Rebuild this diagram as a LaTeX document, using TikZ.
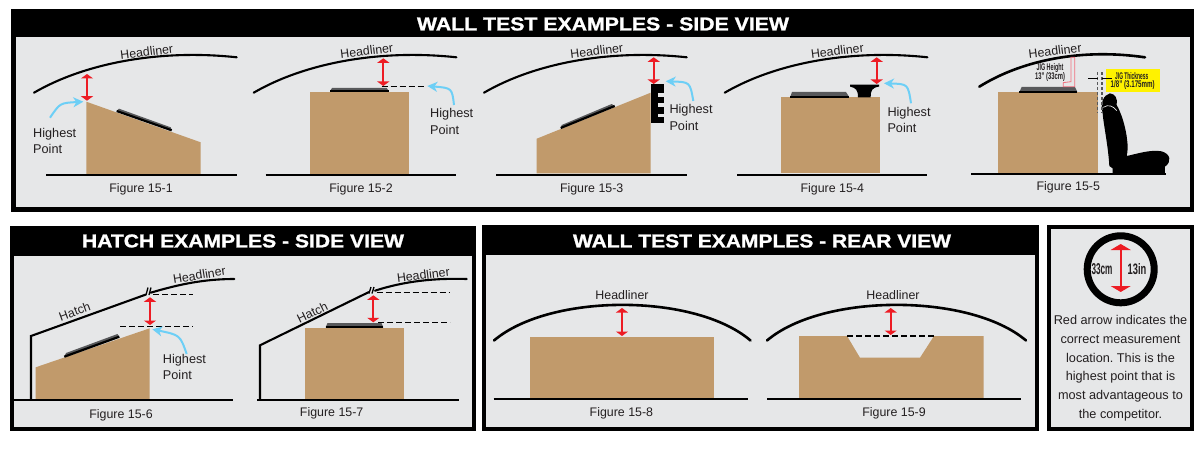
\documentclass[tikz,border=0pt]{standalone}
\usepackage{graphicx}
\usepackage{fontspec}
\setmainfont{Liberation Sans}
\newfontfamily\titlefont[BoldFeatures={FakeBold=1.1}]{Liberation Sans}
\usetikzlibrary{arrows.meta}
\definecolor{panelgray}{HTML}{E6E7E8}
\definecolor{tan}{HTML}{C19A6B}
\definecolor{hiblue}{HTML}{6DCFF6}
\definecolor{arrred}{HTML}{ED1C24}
\definecolor{jiggray}{HTML}{58595B}
\definecolor{jigyellow}{HTML}{FFF200}
\definecolor{pinkline}{HTML}{F1707F}
\definecolor{inkblack}{HTML}{231F20}
\tikzset{
  x=1pt,y=-1pt,
  outerbox/.style={fill=black},
  innerbox/.style={fill=panelgray},
  block/.style={fill=tan},
  roof/.style={draw=black,line width=2.1pt,line cap=round},
  heavyroof/.style={draw=black,line width=2.6pt,line cap=round},
  ground/.style={draw=black,line width=2pt},
  jigbase/.style={draw=black,line width=2.2pt},
  jigtop/.style={fill=jiggray},
  redarrow/.style={draw=arrred,line width=1.7pt,{Triangle[width=12pt,length=4.5pt]}-{Triangle[width=12pt,length=4.5pt]}},
  bigredarrow/.style={draw=arrred,line width=2.2pt,{Triangle[width=20pt,length=6pt]}-{Triangle[width=20pt,length=6pt]}},
  bluearrow/.style={draw=hiblue,line width=2pt,-{Stealth[length=10pt,width=10pt,inset=3pt]}},
  dashline/.style={draw=black,line width=1.5pt,dash pattern=on 6pt off 3pt},
  seatdash/.style={draw=jiggray,line width=1.2pt,dash pattern=on 3pt off 2pt},
  lab/.style={inner sep=0pt,text=inkblack,font=\fontsize{12.4}{14}\selectfont},
  hi/.style={inner sep=0pt,anchor=west,text=inkblack,font=\fontsize{12.7}{15}\selectfont},
  legend/.style={inner sep=0pt,text=inkblack,font=\fontsize{12.7}{14}\selectfont},
  cond/.style={inner sep=0pt,text=inkblack},
}
\newcommand{\panel}[8]{%
  \fill[outerbox] (#1,#2) rectangle (#3,#4);
  \fill[innerbox] (#5,#6) rectangle (#7,#8);}
\newcommand{\ttl}[5]{\node[inner sep=0pt,text=white] (#1) at (#2,#3) {\resizebox{#4pt}{13pt}{\titlefont\bfseries #5}};}
\newcommand{\narrow}[3]{\resizebox{#1pt}{#2pt}{\bfseries #3}}
\newcommand{\redarr}[4]{%
  \coordinate (#1a) at (#2,#3); \coordinate (#1b) at (#2,#4);
  \draw[redarrow] (#1a) -- (#1b);}
\newcommand{\bluearr}[7]{%
  \coordinate (#1a) at (#2,#3); \coordinate (#1b) at (#6,#7);
  \draw[bluearrow] (#1a) .. controls (#4,#5) .. (#1b);}
\newcommand{\hipoint}[4]{%
  \node[hi] (#1h) at (#2,#3) {Highest};
  \node[hi] (#1p) at (#2,#4) {Point};}
\newcommand{\hdl}[4]{\node[lab,rotate=#4] (#1) at (#2,#3) {Headliner};}
\newcommand{\fig}[4]{\node[lab] (#1) at (#2,#3) {Figure #4};}
\newcommand{\roofcurve}[1]{\draw[roof,shift={(#1,0)}] (34,92.7) .. controls (85,63) and (160,49) .. (236.7,57.3);}
\begin{document}
\frenchspacing
\begin{tikzpicture}
\useasboundingbox (0,0) rectangle (1200,452);
\fill[white] (0,0) rectangle (1200,452);
% panels
\panel{11}{9}{1194}{212}{15.5}{37}{1189.5}{207}
\panel{10}{226}{476}{431}{13.5}{256}{472}{427}
\panel{482}{225}{1039}{431}{485.7}{255}{1035}{427}
\panel{1047}{225}{1194}{431}{1051}{229}{1190}{427}
\ttl{t1}{603}{24}{372}{WALL TEST EXAMPLES - SIDE VIEW}
\ttl{t2}{243}{241}{322}{HATCH EXAMPLES - SIDE VIEW}
\ttl{t3}{762}{241}{378}{WALL TEST EXAMPLES - REAR VIEW}

% Figure 15-1
\fill[block] (86.3,101.7) -- (200.7,142.3) -- (200.7,174) -- (86.3,174) -- cycle;
\draw[ground] (46,174.5) -- (236.7,174.5);
\roofcurve{0}
\fill[jigtop] (119,108.7) -- (170.7,127.3) -- (171.7,130.3) -- (116.7,111) -- cycle;
\draw[jigbase] (116.7,111) -- (171.7,130.3);
\redarr{r1}{87}{74}{100.7}
\bluearr{b1}{50}{117.7}{60}{103}{83.3}{101.7}
\hipoint{h1}{33}{134}{149}
\hdl{n1}{146.7}{51.7}{7}
\fig{f1}{141}{189.3}{15-1}

% Figure 15-2
\fill[block] (310,92.3) rectangle (409,174);
\draw[ground] (265.7,174.5) -- (455.7,174.5);
\roofcurve{219.7}
\fill[jigtop] (332,88) -- (386.7,88) -- (388.7,91) -- (330,91) -- cycle;
\draw[jigbase] (330,91) -- (388.7,91);
\coordinate (d2a) at (381.7,86.3); \coordinate (d2b) at (424,86.3);
\draw[dashline] (d2a) -- (d2b);
\redarr{r2}{383.3}{58.3}{86}
\bluearr{b2}{454}{105}{452}{88}{427.3}{86}
\hipoint{h2}{430}{114.7}{129.7}
\hdl{n2}{366.7}{50.7}{7}
\fig{f2}{361}{189.3}{15-2}

% Figure 15-3
\fill[block] (536.7,138.7) -- (650.7,92.7) -- (650.7,173.3) -- (536.7,173.3) -- cycle;
\draw[ground] (496,174.7) -- (686.7,174.7);
\roofcurve{450}
\fill[jigtop] (561.7,125) -- (611.7,104) -- (614.7,106) -- (560.7,128) -- cycle;
\draw[jigbase] (560.7,128) -- (614.7,106);
\fill[black] (650.7,84.3) rectangle (657.5,122.7);
\fill[black] (657.5,84.3) rectangle (664,92.7);
\fill[black] (657.5,96.7) rectangle (664,103);
\fill[black] (657.5,106.7) rectangle (664,114);
\fill[black] (657.5,117.3) rectangle (664,122.7);
\redarr{r3}{653.7}{57.3}{84}
\bluearr{b3}{693.3}{101}{690}{82}{665.7}{81.3}
\hipoint{h3}{669.3}{110.7}{126}
\hdl{n3}{596.7}{50.7}{7}
\fig{f3}{591.7}{189.3}{15-3}

% Figure 15-4
\fill[block] (781,97.3) rectangle (880.3,173.3);
\draw[ground] (737.3,174.7) -- (927,174.7);
\roofcurve{690.7}
\fill[jigtop] (792,92) -- (846,92) -- (849,96.7) -- (790.3,96.7) -- cycle;
\draw[jigbase] (790.3,96.7) -- (849,96.7);
\fill[black] (850,84.7) -- (879,84.7) -- (879,86.5) .. controls (872,88) and (870.7,90) .. (870.7,97.3) -- (858,97.3) .. controls (858,90) and (856,88) .. (850,86.5) -- cycle;
\redarr{r4}{876.7}{57.3}{84}
\bluearr{b4}{911}{103.3}{908}{84}{884}{83.3}
\hipoint{h4}{887.3}{113.3}{128.3}
\hdl{n4}{837.3}{50.7}{7}
\fig{f4}{832.3}{189.3}{15-4}

% Figure 15-5
\begin{scope}[shift={(960,30)},xscale=0.3333,yscale=0.3333]
  \fill[block] (115,187) rectangle (413,430);
  \fill[black] (450,190) .. controls (465,192) and (474,205) .. (470,225)
    .. controls (482,245) and (498,290) .. (502,335) .. controls (504,350) and (503,365) .. (500,378)
    .. controls (530,372) and (570,358) .. (605,364) .. controls (632,372) and (636,395) .. (615,410)
    -- (615,433) -- (458,433) -- (458,415) -- (448,408)
    .. controls (445,350) and (430,280) .. (428,250) .. controls (420,220) and (430,195) .. (450,190) -- cycle;
  \draw[panelgray,line width=0.7pt] (430,232) .. controls (445,222) and (460,228) .. (470,242);
  \draw[ground] (33,433) -- (617,433);
  \draw[heavyroof] (58,170) .. controls (190,88) and (370,55) .. (555,82);
  \fill[jigtop] (185,171) -- (345,171) -- (352,186) -- (178,186) -- cycle;
  \draw[black,line width=1.4pt] (178,186) -- (352,186);
  \draw[pinkline,line width=0.8pt] (333,82) -- (344,82) -- (344,170) -- (310,170) -- (310,158) -- (333,155) -- cycle;
  \fill[jigyellow] (438,118) rectangle (600,185);
  \draw[seatdash] (413,127) -- (413,250);
  \draw[seatdash] (426,127) -- (426,250);
  \draw[black,line width=0.8pt] (385,146) -- (413,146);
  \draw[black,line width=0.8pt] (426,146) -- (455,146);
\end{scope}
\node[cond] (jh1) at (1050,67.7) {\narrow{27}{7}{JIG Height}};
\node[cond] (jh2) at (1050,76.7) {\narrow{30}{7}{13" (33cm)}};
\node[cond] (jt1) at (1131.7,75.7) {\narrow{33}{7}{JIG Thickness}};
\node[cond] (jt2) at (1132.7,85.3) {\narrow{44}{7}{1/8" (3.175mm)}};
\hdl{n5}{1055}{50.7}{7}
\fig{f5}{1068.3}{187.7}{15-5}

% Figure 15-6
\fill[block] (35.7,367.3) -- (149.7,328.3) -- (149.7,399) -- (35.7,399) -- cycle;
\draw[ground] (13.5,400.3) -- (232.7,400.3);
\draw[roof,line cap=butt,line join=miter] (31,400) -- (31,336) -- (146,294.5);
\draw[roof] (150.7,292.7) .. controls (180,284) and (205,279) .. (234.3,279);
\draw[black,line width=1.3pt] (146,295) -- (148,287.5);
\draw[black,line width=1.3pt] (149,295) -- (151,287.5);
\fill[jigtop] (66,353) -- (117.5,334) -- (119.3,336.7) -- (64.3,356.7) -- cycle;
\draw[jigbase] (64.3,356.7) -- (119.3,336.7);
\coordinate (d6a) at (153.3,294.7); \coordinate (d6b) at (192.7,294.7);
\coordinate (d6c) at (120,326.7); \coordinate (d6d) at (192.7,326.7);
\draw[dashline] (d6a) -- (d6b);
\draw[dashline] (d6c) -- (d6d);
\redarr{r6}{150}{297.3}{325}
\bluearr{b6}{186.7}{354}{180}{335}{152.3}{329.3}
\hipoint{h6}{162.7}{360}{375}
\node[lab,rotate=20] (hat6) at (74.7,311.7) {Hatch};
\hdl{n6}{199.3}{275}{9}
\fig{f6}{121}{415}{15-6}

% Figure 15-7
\fill[block] (305,328.3) rectangle (404,399);
\draw[ground] (257.3,400.3) -- (458.7,400.3);
\draw[roof,line cap=butt,line join=miter] (260,400) -- (260,345.3) -- (369,292);
\draw[roof] (375,290.7) .. controls (405,281) and (435,278) .. (466.7,279);
\draw[black,line width=1.3pt] (369,293.5) -- (371,287);
\draw[black,line width=1.3pt] (372,293.5) -- (374,287);
\fill[jigtop] (327.5,323) -- (381.5,323) -- (383.3,327.3) -- (325.7,327.3) -- cycle;
\draw[jigbase] (325.7,327.3) -- (383.3,327.3);
\coordinate (d7a) at (376.7,292.7); \coordinate (d7b) at (450,292.7);
\coordinate (d7c) at (378,322.7); \coordinate (d7d) at (450,322.7);
\draw[dashline] (d7a) -- (d7b);
\draw[dashline] (d7c) -- (d7d);
\redarr{r7}{373.3}{295.3}{322.3}
\node[lab,rotate=26] (hat7) at (312.3,312.7) {Hatch};
\hdl{n7}{423.3}{275}{7}
\fig{f7}{331.7}{413.7}{15-7}

% Figure 15-8
\fill[block] (530,336.7) rectangle (714,398);
\draw[ground] (493.6,399.3) -- (748,399.3);
\draw[heavyroof] (494,340.5) .. controls (550,293) and (695,293) .. (750.5,340.5);
\redarr{r8}{622}{308}{336}
\hdl{n8}{622}{295}{0}
\fig{f8}{621.4}{413.7}{15-8}

% Figure 15-9
\fill[block] (799,336) -- (847,336) -- (860,357.7) -- (920,357.7) -- (934,336) -- (983.6,336) -- (983.6,398) -- (799,398) -- cycle;
\draw[ground] (767,399.3) -- (1020.7,399.3);
\draw[heavyroof] (767,340.5) .. controls (823,293) and (970,293) .. (1026,340.5);
\coordinate (d9a) at (847,336); \coordinate (d9b) at (934,336);
\draw[dashline] (d9a) -- (d9b);
\redarr{r9}{890.7}{308}{335}
\hdl{n9}{893}{295}{0}
\fig{f9}{894}{413.7}{15-9}

% Legend
\draw[black,line width=7pt] (1120.7,269.3) circle (33.5);
\coordinate (r0a) at (1120.7,244); \coordinate (r0b) at (1120.7,292);
\draw[bigredarrow] (r0a) -- (r0b);
\node[cond] (c1) at (1102,269.5) {\narrow{21}{11}{33cm}};
\node[cond] (c2) at (1137,269.5) {\narrow{18.7}{11}{13in}};
\node[legend] (l1) at (1120.5,320) {Red arrow indicates the};
\node[legend] (l2) at (1120.5,339) {correct measurement};
\node[legend] (l3) at (1120.5,358) {location. This is the};
\node[legend] (l4) at (1120.5,377) {highest point that is};
\node[legend] (l5) at (1120.5,396.5) {most advantageous to};
\node[legend] (l6) at (1120.5,415) {the competitor.};
\end{tikzpicture}
\end{document}
